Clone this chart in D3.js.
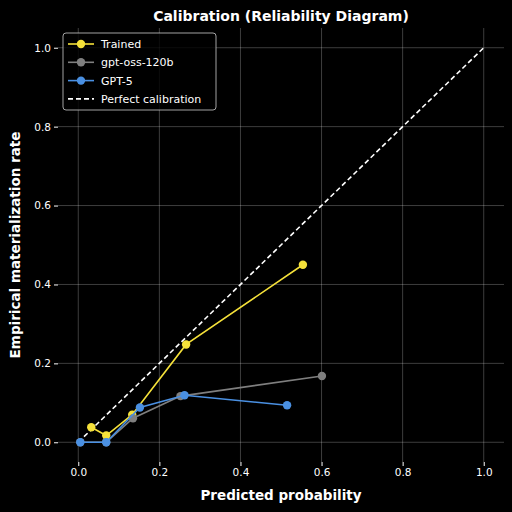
<!DOCTYPE html>
<html><head><meta charset="utf-8">
<script src="https://cdn.jsdelivr.net/npm/d3@7"></script>
<style>body{margin:0;background:#000}</style></head>
<body><svg id="c" width="512" height="512"></svg>
<script>
// calibration curves
var trainedX = [0.032, 0.069, 0.133, 0.266, 0.554];
var trainedY = [0.038, 0.017, 0.070, 0.248, 0.450];
var ossX = [0.005, 0.069, 0.135, 0.252, 0.601];
var ossY = [0.000, 0.000, 0.061, 0.117, 0.168];
var gpt5X = [0.005, 0.069, 0.152, 0.262, 0.515];
var gpt5Y = [0.000, 0.000, 0.088, 0.119, 0.094];
var ticks = [0, 0.2, 0.4, 0.6, 0.8, 1.0];
var seriesNames = ["Trained", "gpt-oss-120b", "GPT-5"];
var colors = ["#f5e13a", "#7f7f7f", "#4a90e2"];

var svg = d3.select("#c");
svg.append("rect").attr("width", 512).attr("height", 512).attr("fill", "#000");
var L = 58, R = 504, T = 28, B = 462;
var x = d3.scaleLinear().domain([-0.05, 1.05]).range([L, R]);
var y = d3.scaleLinear().domain([-0.05, 1.05]).range([B, T]);
var font = "DejaVu Sans";

var g = svg.append("g");
ticks.forEach(function(t) {
  g.append("line").attr("x1", x(t)).attr("x2", x(t)).attr("y1", T).attr("y2", B)
    .attr("stroke", "#fff").attr("stroke-opacity", 0.3).attr("stroke-width", 0.8);
  g.append("line").attr("y1", y(t)).attr("y2", y(t)).attr("x1", L).attr("x2", R)
    .attr("stroke", "#fff").attr("stroke-opacity", 0.3).attr("stroke-width", 0.8);
});

var xa = svg.append("g").attr("transform", "translate(0," + B + ")")
  .call(d3.axisBottom(x).tickValues(ticks).tickFormat(d3.format(".1f")).tickSize(4));
var ya = svg.append("g").attr("transform", "translate(" + L + ",0)")
  .call(d3.axisLeft(y).tickValues(ticks).tickFormat(d3.format(".1f")).tickSize(4));
[xa, ya].forEach(function(a) {
  a.select(".domain").remove();
  a.selectAll("line").attr("stroke", "#fff");
  a.selectAll("text").attr("fill", "#fff").attr("font-family", font).attr("font-size", 10.5);
});

svg.append("line").attr("x1", x(0)).attr("y1", y(0)).attr("x2", x(1)).attr("y2", y(1))
  .attr("stroke", "#fff").attr("stroke-width", 1.6).attr("stroke-dasharray", "5,3");

var line = d3.line().x(function(d) { return x(d[0]); }).y(function(d) { return y(d[1]); });
[[trainedX, trainedY], [ossX, ossY], [gpt5X, gpt5Y]].forEach(function(s, i) {
  var pts = d3.zip(s[0], s[1]);
  svg.append("path").datum(pts).attr("d", line).attr("fill", "none")
    .attr("stroke", colors[i]).attr("stroke-width", 1.6);
  svg.selectAll(null).data(pts).enter().append("circle")
    .attr("cx", function(d) { return x(d[0]); }).attr("cy", function(d) { return y(d[1]); })
    .attr("r", 4.2).attr("fill", colors[i]);
});

svg.append("text").attr("x", (L + R) / 2).attr("y", 21).attr("text-anchor", "middle")
  .attr("fill", "#fff").attr("font-family", font).attr("font-weight", "bold").attr("font-size", 14)
  .text("Calibration (Reliability Diagram)");
svg.append("text").attr("x", (L + R) / 2).attr("y", 500).attr("text-anchor", "middle")
  .attr("fill", "#fff").attr("font-family", font).attr("font-weight", "bold").attr("font-size", 13.5)
  .text("Predicted probability");
svg.append("text").attr("transform", "translate(20," + (T + B) / 2 + ") rotate(-90)")
  .attr("text-anchor", "middle").attr("fill", "#fff").attr("font-family", font)
  .attr("font-weight", "bold").attr("font-size", 13.5).text("Empirical materialization rate");

// legend
var lg = svg.append("g").attr("transform", "translate(63,33)");
lg.append("rect").attr("width", 153).attr("height", 77).attr("rx", 3)
  .attr("fill", "#000").attr("fill-opacity", 0.8).attr("stroke", "#ccc").attr("stroke-width", 0.8);
var items = seriesNames.concat(["Perfect calibration"]);
items.forEach(function(name, i) {
  var yy = 11 + i * 18.3;
  var ln = lg.append("line").attr("x1", 5).attr("x2", 31).attr("y1", yy).attr("y2", yy)
    .attr("stroke", i < 3 ? colors[i] : "#fff").attr("stroke-width", 1.6);
  if (i < 3) lg.append("circle").attr("cx", 18).attr("cy", yy).attr("r", 4.2).attr("fill", colors[i]);
  else ln.attr("stroke-dasharray", "5,3");
  lg.append("text").attr("x", 38).attr("y", yy + 4).attr("fill", "#fff")
    .attr("font-family", font).attr("font-size", 11).text(name);
});
</script></body></html>
